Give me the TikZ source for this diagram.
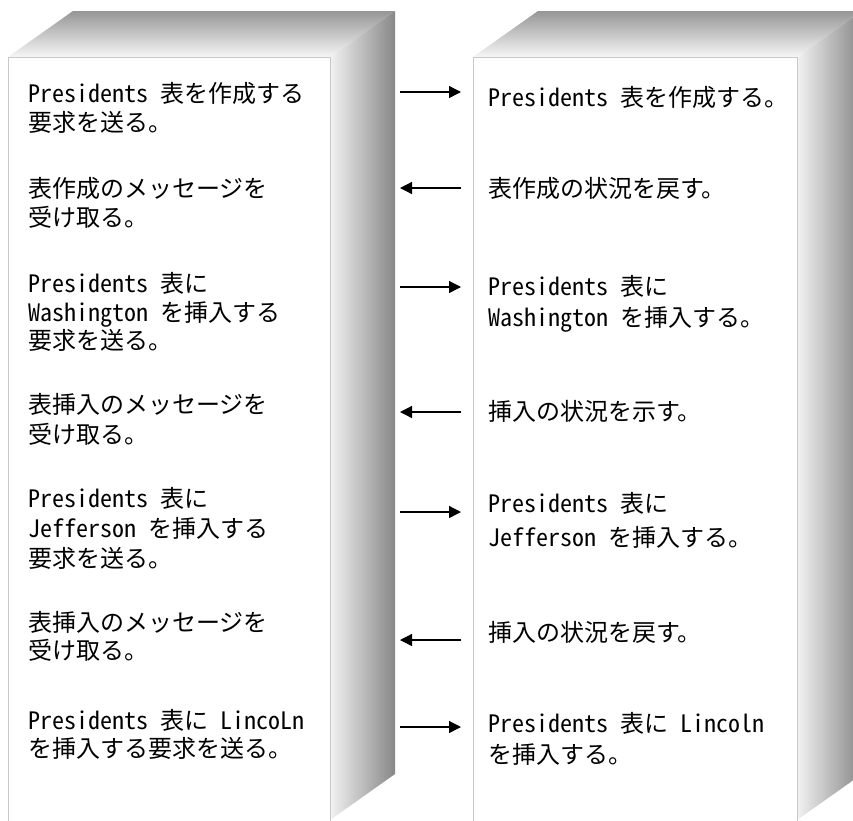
\documentclass[tikz,border=0pt]{standalone}
\usepackage{fontspec}
\newfontfamily\jp{Noto Sans CJK JP}[RawFeature={+hwid;-liga}]
\usetikzlibrary{arrows.meta}
\definecolor{topback}{RGB}{150,150,150}
\definecolor{topfront}{RGB}{246,246,246}
\definecolor{sideleft}{RGB}{242,242,242}
\definecolor{sideright}{RGB}{135,135,135}
\definecolor{edgegray}{RGB}{200,200,200}
\newcommand\hs{\hspace{0.5em}}
\tikzset{
  txt/.style={anchor=base west, inner sep=0pt, font=\jp\fontsize{24}{29}\selectfont},
  frontface/.style={fill=white, draw=edgegray, line width=0.8pt},
  topface/.style={top color=topback, bottom color=topfront, draw=none},
  sideface/.style={left color=sideleft, right color=sideright, draw=none},
  msg/.style={line width=1.3pt, -{Triangle[length=12pt,width=12pt]}}
}
\begin{document}
\begin{tikzpicture}[x=1pt,y=-1pt]
\useasboundingbox (0,0) rectangle (853,820);
\clip (0,0) rectangle (853,820);
\fill[white] (0,0) rectangle (853,820);
% left box
\path[topface] (8,57) -- (73,11) -- (395,11) -- (330,57) -- cycle;
\path[sideface] (330,57) -- (395,11) -- (395,774) -- (330,820) -- cycle;
\draw[frontface] (8,57) rectangle (330,822);
% right box
\path[topface] (473,57) -- (538,11) -- (862,11) -- (797,57) -- cycle;
\path[sideface] (797,57) -- (862,11) -- (862,774) -- (797,820) -- cycle;
\draw[frontface] (473,57) rectangle (797,822);
% left texts
\node[txt] (L1a) at (28,102) {Presidents\hs 表を作成する};
\node[txt] (L1b) at (28,131) {要求を送る。};
\node[txt] (L2a) at (28,197) {表作成のメッセージを};
\node[txt] (L2b) at (28,226) {受け取る。};
\node[txt] (L3a) at (28,292) {Presidents\hs 表に};
\node[txt] (L3b) at (28,321) {Washington\hs を挿入する};
\node[txt] (L3c) at (28,349) {要求を送る。};
\node[txt] (L4a) at (28,413) {表挿入のメッセージを};
\node[txt] (L4b) at (28,443) {受け取る。};
\node[txt] (L5a) at (28,507) {Presidents\hs 表に};
\node[txt] (L5b) at (28,537) {Jefferson\hs を挿入する};
\node[txt] (L5c) at (28,567) {要求を送る。};
\node[txt] (L6a) at (28,631) {表挿入のメッセージを};
\node[txt] (L6b) at (28,659) {受け取る。};
\node[txt] (L7a) at (28,729) {Presidents\hs 表に\hs LincoLn};
\node[txt] (L7b) at (28,757) {を挿入する要求を送る。};
% right texts
\node[txt] (R1) at (488,106) {Presidents\hs 表を作成する。};
\node[txt] (R2) at (488,197) {表作成の状況を戻す。};
\node[txt] (R3a) at (488,295) {Presidents\hs 表に};
\node[txt] (R3b) at (488,326) {Washington\hs を挿入する。};
\node[txt] (R4) at (488,420) {挿入の状況を示す。};
\node[txt] (R5a) at (488,512) {Presidents\hs 表に};
\node[txt] (R5b) at (488,546) {Jefferson\hs を挿入する。};
\node[txt] (R6) at (488,641) {挿入の状況を戻す。};
\node[txt] (R7a) at (488,732) {Presidents\hs 表に\hs Lincoln};
\node[txt] (R7b) at (488,763) {を挿入する。};
% arrow end points
\coordinate (a1l) at (400,92);  \coordinate (a1r) at (461,92);
\coordinate (a2l) at (400,188); \coordinate (a2r) at (461,188);
\coordinate (a3l) at (400,287); \coordinate (a3r) at (461,287);
\coordinate (a4l) at (400,412); \coordinate (a4r) at (461,412);
\coordinate (a5l) at (400,512); \coordinate (a5r) at (461,512);
\coordinate (a6l) at (400,640); \coordinate (a6r) at (461,640);
\coordinate (a7l) at (400,727); \coordinate (a7r) at (461,727);
\draw[msg] (a1l) -- (a1r);
\draw[msg] (a2r) -- (a2l);
\draw[msg] (a3l) -- (a3r);
\draw[msg] (a4r) -- (a4l);
\draw[msg] (a5l) -- (a5r);
\draw[msg] (a6r) -- (a6l);
\draw[msg] (a7l) -- (a7r);
\end{tikzpicture}
\end{document}
